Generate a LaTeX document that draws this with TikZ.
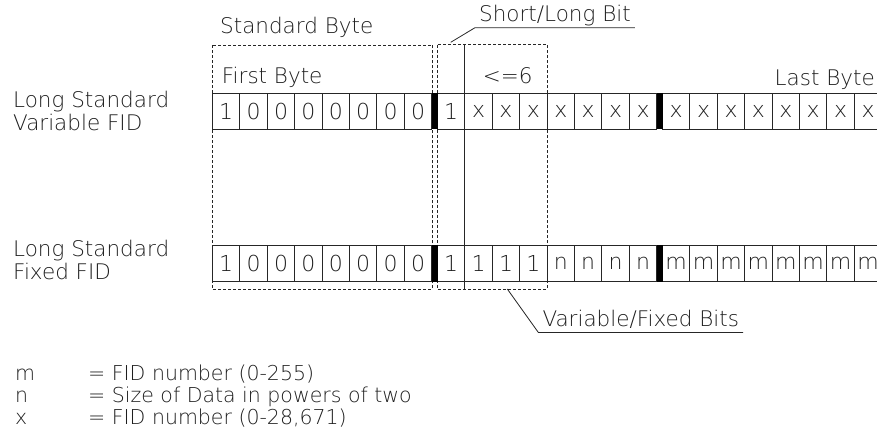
\documentclass[tikz,border=0pt]{standalone}
\usepackage{fontspec}
\setmainfont{DejaVu Sans ExtraLight}
\usepackage{xcolor}
\usepackage{tikz}
\usetikzlibrary{positioning}
\definecolor{fidInk}{HTML}{1E1E1E}
\definecolor{fidLine}{HTML}{262626}
\tikzset{
  fid diagram/.style={x=1pt, y=-1pt, font=\fontsize{21.5}{22.7}\selectfont,
    text=fidInk, line cap=butt, line join=miter},
  fid cell/.style={draw=fidLine, line width=0.9pt, minimum width=27.4pt,
    minimum height=36.5pt, inner sep=0pt, outer sep=0pt,
    font=\fontsize{22}{22}\selectfont},
  fid bar/.style={fill=black, draw=none, minimum width=5.8pt,
    minimum height=36.5pt, inner sep=0pt, outer sep=0pt},
  fid group/.style={draw=fidLine, line width=0.8pt, dash pattern=on 3pt off 2pt},
  fid divider/.style={draw=fidLine, line width=0.9pt},
  fid label/.style={inner sep=0pt, anchor=base west},
  fid key/.style={fid label, font=\fontsize{20.5}{22}\selectfont},
  fid callout/.style={inner xsep=4pt, inner ysep=1.2pt, text depth=4.8pt,
    anchor=south west},
  fid leader/.style={draw=fidLine, line width=0.8pt}
}

\begin{document}
\begin{tikzpicture}[fid diagram]
\useasboundingbox (0,0) rectangle (877,432);

% groups
\draw[fid group] (212.5,45) rectangle (432.3,289.3);
\draw[fid group] (437.5,44.5) rectangle (547.1,289);
\draw[fid divider] (464.9,44.5) -- (464.9,289);

% bit cells
\foreach \b [count=\i] in {1,0,0,0,0,0,0,0,1,x,x,x,x,x,x,x,x,x,x,x,x,x,x,x}{
  \pgfmathsetmacro{\cx}{226.2+(\i-1)*27.4+int((\i-1)/8)*5.8}
  \node[fid cell] (v\i) at (\cx,111.2) {\b};
}
\foreach \b [count=\i] in {1,0,0,0,0,0,0,0,1,1,1,1,n,n,n,n,m,m,m,m,m,m,m,m}{
  \pgfmathsetmacro{\cx}{226.2+(\i-1)*27.4+int((\i-1)/8)*5.8}
  \node[fid cell] (f\i) at (\cx,263.3) {\b};
}
\node[fid bar, right=0pt of v8] (vbar1) {};
\node[fid bar, right=0pt of v16] (vbar2) {};
\node[fid bar, right=0pt of f8] (fbar1) {};
\node[fid bar, right=0pt of f16] (fbar2) {};

% labels
\node[fid label] (stdbyte) at (220,33.3) {Standard Byte};
\node[fid label] (firstbyte) at (221.7,83.3) {First Byte};
\node[fid label] (limit) at (482.7,83.3) {<=6};
\node[fid label, anchor=base east] (lastbyte) at (875,85) {Last Byte};
\node[inner sep=0pt, anchor=north west, align=left] (varfid) at (13,91)
  {Long Standard\\Variable FID};
\node[inner sep=0pt, anchor=north west, align=left] (fixfid) at (13,240.4)
  {Long Standard\\Fixed FID};

% callouts
\node[fid callout] (slbit) at (475,27.7) {Short/Long Bit};
\coordinate (slmark) at (450.7,42.3);
\draw[fid leader] (slmark) -- (slbit.south west) -- (slbit.south east);
\node[fid callout] (vfbits) at (538.3,332.4) {Variable/Fixed Bits};
\coordinate (vfmark) at (507.3,289);
\draw[fid leader] (vfmark) -- (vfbits.south west) -- (vfbits.south east);

% legend
\node[fid key] (legm) at (15,380) {m};
\node[fid key] (legmtext) at (88,380) {= FID number (0-255)};
\node[fid key] (legn) at (15,402) {n};
\node[fid key] (legntext) at (88,402) {= Size of Data in powers of two};
\node[fid key] (legx) at (15,424) {x};
\node[fid key] (legxtext) at (88,424) {= FID number (0-28,671)};
\end{tikzpicture}
\end{document}
